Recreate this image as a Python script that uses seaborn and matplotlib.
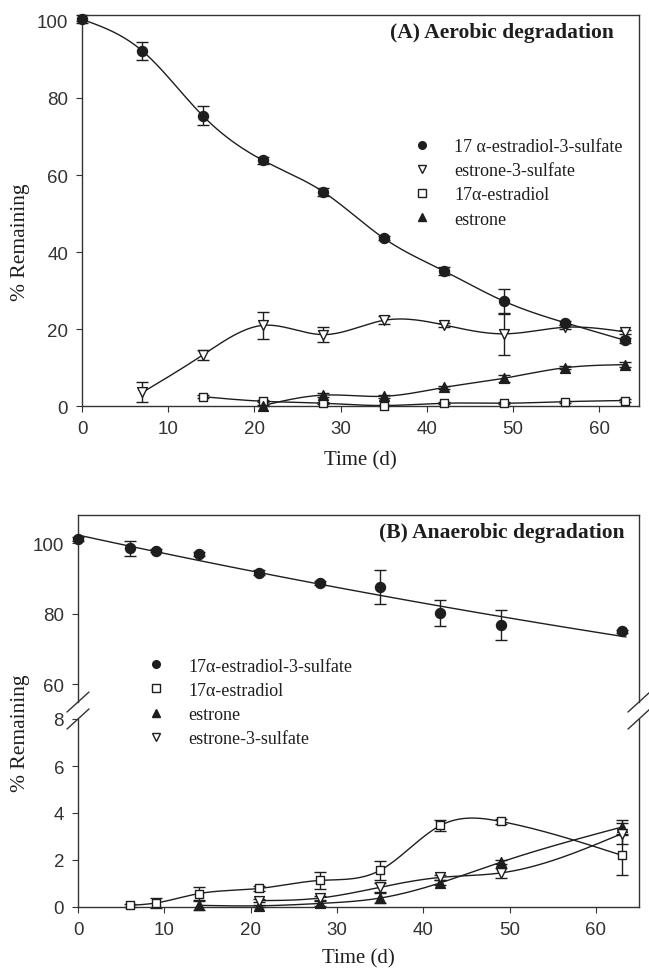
import numpy as np
import matplotlib
matplotlib.use('Agg')
import matplotlib.pyplot as plt
import seaborn as sns
from matplotlib.lines import Line2D

# (A) aerobic degradation, % remaining
a_days_e2s = [0, 7, 14, 21, 28, 35, 42, 49, 56, 63]
a_e2s = [100.4, 92.2, 75.4, 63.8, 55.6, 43.6, 35.1, 27.2, 21.7, 17.1]
a_e2s_err = [1.0, 2.3, 2.4, 1.0, 1.0, 0.5, 1.0, 3.2, 0.5, 0.7]

a_days_e1s = [7, 14, 21, 28, 35, 42, 49, 56, 63]
a_e1s = [3.6, 13.3, 21.0, 18.6, 22.3, 21.1, 18.8, 20.5, 19.3]
a_e1s_err = [2.6, 1.2, 3.5, 2.0, 1.0, 0.5, 5.5, 0.5, 0.5]

a_days_e2 = [14, 21, 28, 35, 42, 49, 56, 63]
a_e2 = [2.5, 1.3, 0.8, 0.2, 0.8, 0.8, 1.2, 1.5]
a_e2_err = [0.4, 0.3, 0.3, 0.2, 0.3, 0.3, 0.3, 0.3]

a_days_e1 = [21, 28, 35, 42, 49, 56, 63]
a_e1 = [0.2, 2.9, 2.6, 4.9, 7.3, 10.0, 10.8]
a_e1_err = [0.2, 0.6, 0.4, 0.4, 0.9, 0.4, 0.7]

# (B) anaerobic degradation, % remaining
b_days_e2s = [0, 6, 9, 14, 21, 28, 35, 42, 49, 63]
b_e2s = [101.2, 98.6, 97.9, 96.9, 91.7, 88.7, 87.6, 80.2, 76.9, 75.0]
b_e2s_err = [0.5, 2.1, 0.5, 0.6, 0.6, 0.5, 4.8, 3.8, 4.2, 0.5]

b_days_e2 = [6, 9, 14, 21, 28, 35, 42, 49, 63]
b_e2 = [0.07, 0.17, 0.57, 0.79, 1.13, 1.56, 3.47, 3.64, 2.2]
b_e2_err = [0.05, 0.2, 0.28, 0.1, 0.35, 0.4, 0.22, 0.12, 0.85]

b_days_e1 = [14, 21, 28, 35, 42, 49, 63]
b_e1 = [0.07, 0.05, 0.15, 0.38, 1.03, 1.91, 3.4]
b_e1_err = [0.2, 0.05, 0.1, 0.2, 0.1, 0.1, 0.3]

b_days_e1s = [21, 28, 35, 42, 49, 63]
b_e1s = [0.27, 0.38, 0.84, 1.26, 1.45, 3.12]
b_e1s_err = [0.05, 0.1, 0.2, 0.1, 0.2, 0.45]

INK = '#1e1e1e'
SERIF = 'Liberation Serif'

sns.set_style('ticks')
plt.rcParams['font.family'] = ['Liberation Sans', 'DejaVu Sans']


def natural_spline(x, y, num=300):
    # smooth curve through the points, like the original plotting software
    x = np.asarray(x, float)
    y = np.asarray(y, float)
    n = len(x)
    h = np.diff(x)
    A = np.zeros((n, n))
    r = np.zeros(n)
    A[0, 0] = A[-1, -1] = 1
    for i in range(1, n - 1):
        A[i, i - 1] = h[i - 1]
        A[i, i] = 2 * (h[i - 1] + h[i])
        A[i, i + 1] = h[i]
        r[i] = 6 * ((y[i + 1] - y[i]) / h[i] - (y[i] - y[i - 1]) / h[i - 1])
    M = np.linalg.solve(A, r)
    xs = np.linspace(x[0], x[-1], num)
    idx = np.clip(np.searchsorted(x, xs) - 1, 0, n - 2)
    x0, x1 = x[idx], x[idx + 1]
    hh = x1 - x0
    t0, t1 = x1 - xs, xs - x0
    ys = (M[idx] * t0 ** 3 + M[idx + 1] * t1 ** 3) / (6 * hh) \
        + (y[idx] / hh - M[idx] * hh / 6) * t0 + (y[idx + 1] / hh - M[idx + 1] * hh / 6) * t1
    return xs, ys


def draw_series(ax, days, vals, errs, marker, filled, size, curve=True):
    ax.errorbar(days, vals, yerr=errs, fmt='none', ecolor=INK, elinewidth=1,
                capsize=4, capthick=1, zorder=2, clip_on=False)
    if curve:
        xs, ys = natural_spline(days, vals)
        sns.lineplot(x=xs, y=ys, ax=ax, color=INK, lw=1, sort=False,
                     estimator=None, zorder=1)
    sns.scatterplot(x=days, y=vals, ax=ax, marker=marker, s=size,
                    color=INK if filled else 'white', edgecolor=INK,
                    linewidth=1, zorder=3, clip_on=False)


def style_axis(ax):
    for sp in ax.spines.values():
        sp.set_color('#333333')
        sp.set_linewidth(1)
    ax.tick_params(direction='out', length=4, width=0.8, pad=6,
                   labelsize=13.5, colors='#333333', top=False, right=False)


def legend_handles(spec):
    return [Line2D([], [], ls='none', marker=m, ms=5.5, mec=INK,
                   mfc=INK if f else 'white', mew=1) for m, f in spec]


fig = plt.figure(figsize=(6.49, 9.70), dpi=100)
W, H = 649, 970

# ---------------- panel A ----------------
axA = fig.add_axes([82 / W, 1 - 407.3 / H, (639 - 82) / W, (407.3 - 15.7) / H])
draw_series(axA, a_days_e2, a_e2, a_e2_err, 's', False, 40)
draw_series(axA, a_days_e1, a_e1, a_e1_err, '^', True, 50)
draw_series(axA, a_days_e1s, a_e1s, a_e1s_err, 'v', False, 50)
draw_series(axA, a_days_e2s, a_e2s, a_e2s_err, 'o', True, 52)
axA.set_xlim(0, 64.6)
axA.set_ylim(0, 101.6)
axA.set_xticks(range(0, 61, 10))
axA.set_yticks(range(0, 101, 20))
style_axis(axA)
axA.set_xlabel('Time (d)', fontfamily=SERIF, fontsize=15, color=INK)
axA.xaxis.set_label_coords(0.5, -0.112)
axA.set_ylabel('')
axA.text(0.955, 0.956, '(A) Aerobic degradation', transform=axA.transAxes,
         ha='right', va='center', fontfamily=SERIF, fontweight='bold',
         fontsize=15.5, color=INK)
fig.text(21 / W, 1 - 242 / H, '% Remaining', rotation=90, ha='center',
         va='center', fontfamily=SERIF, fontsize=15.5, color=INK)
axA.legend(legend_handles([('o', True), ('v', False), ('s', False), ('^', True)]),
           ['17 α-estradiol-3-sulfate', 'estrone-3-sulfate', '17α-estradiol', 'estrone'],
           loc='upper left', bbox_to_anchor=(403.7 / W, 1 - 139 / H),
           bbox_transform=fig.transFigure, frameon=False, borderpad=0,
           borderaxespad=0, handlelength=2, handletextpad=0.8, labelspacing=0.4,
           prop={'family': SERIF, 'size': 13}, labelcolor=INK)

# ---------------- panel B (broken y axis) ----------------
axBu = fig.add_axes([78 / W, 1 - 703 / H, (639 - 78) / W, (703 - 516) / H])
axBl = fig.add_axes([78 / W, 1 - 908 / H, (639 - 78) / W, (908 - 720) / H])

# first-order decay fit for the sulfate conjugate
k, c0 = np.polyfit(b_days_e2s, np.log(b_e2s), 1)
t_fit = np.linspace(b_days_e2s[0], b_days_e2s[-1] + 0.5, 100)
sns.lineplot(x=t_fit, y=np.exp(c0 + k * t_fit), ax=axBu, color=INK, lw=1,
             sort=False, estimator=None, zorder=1)
draw_series(axBu, b_days_e2s, b_e2s, b_e2s_err, 'o', True, 52, curve=False)

draw_series(axBl, b_days_e1, b_e1, b_e1_err, '^', True, 50)
draw_series(axBl, b_days_e1s, b_e1s, b_e1s_err, 'v', False, 50)
draw_series(axBl, b_days_e2, b_e2, b_e2_err, 's', False, 40)

for ax in (axBu, axBl):
    ax.set_xlim(0, 65)
    style_axis(ax)
    ax.set_ylabel('')
axBu.set_ylim(55, 108)
axBu.set_yticks([60, 80, 100])
axBu.spines['bottom'].set_visible(False)
axBu.tick_params(bottom=False, labelbottom=False)
axBl.set_ylim(0, 8)
axBl.set_yticks([0, 2, 4, 6, 8])
axBl.set_xticks(range(0, 61, 10))
axBl.spines['top'].set_visible(False)
axBl.set_xlabel('Time (d)', fontfamily=SERIF, fontsize=15, color=INK)
axBl.xaxis.set_label_coords(0.5, -0.218)

# break marks on both spines
dx, dy = 11 / 561, 10 / 187
for ax, yy in ((axBu, 0), (axBl, 1)):
    for xx in (0, 1):
        ax.plot([xx - dx, xx + dx], [yy - dy, yy + dy], transform=ax.transAxes,
                color='#333333', lw=1, clip_on=False, zorder=5)

axBu.text(0.975, 0.909, '(B) Anaerobic degradation', transform=axBu.transAxes,
          ha='right', va='center', fontfamily=SERIF, fontweight='bold',
          fontsize=15.5, color=INK)
fig.text(21 / W, 1 - 733 / H, '% Remaining', rotation=90, ha='center',
         va='center', fontfamily=SERIF, fontsize=15.5, color=INK)
axBl.legend(legend_handles([('o', True), ('s', False), ('^', True), ('v', False)]),
            ['17α-estradiol-3-sulfate', '17α-estradiol', 'estrone', 'estrone-3-sulfate'],
            loc='upper left', bbox_to_anchor=(138 / W, 1 - 658.5 / H),
            bbox_transform=fig.transFigure, frameon=False, borderpad=0,
            borderaxespad=0, handlelength=2, handletextpad=0.8, labelspacing=0.4,
            prop={'family': SERIF, 'size': 13}, labelcolor=INK)

fig.savefig('out.png', dpi=100, facecolor='white')
